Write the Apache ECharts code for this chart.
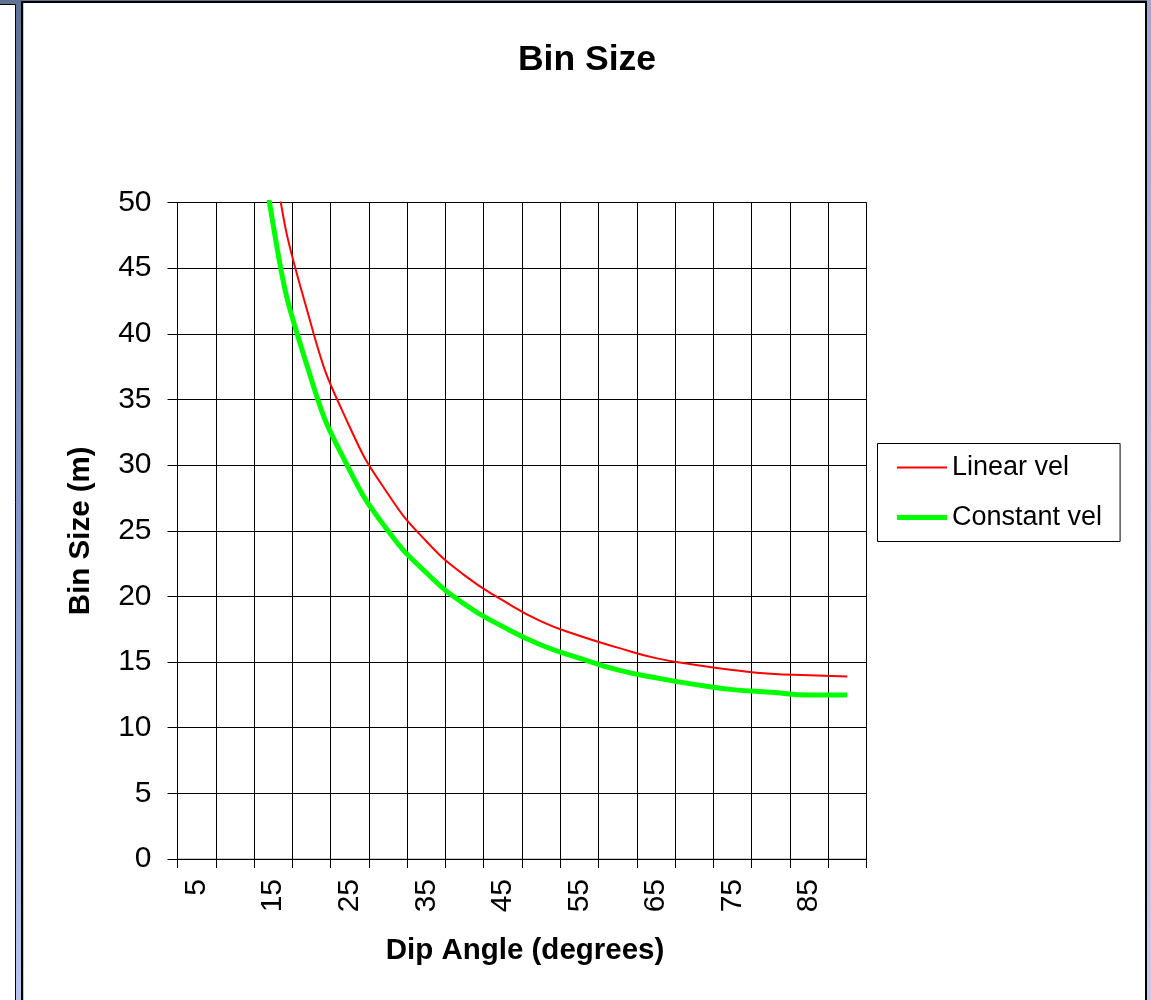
<!DOCTYPE html>
<html>
<head>
<meta charset="utf-8">
<title>Bin Size</title>
<script src="https://cdn.jsdelivr.net/npm/echarts@6/dist/echarts.min.js"></script>
<style>
  html, body { margin: 0; padding: 0; background: #ffffff; }
  #chart { width: 1151px; height: 1000px; }
</style>
</head>
<body>
<div id="chart"></div>
<script>
// Dip angle categories (degrees)
const dipAngles = ['5', '10', '15', '20', '25', '30', '35', '40', '45', '50',
                   '55', '60', '65', '70', '75', '80', '85', '90'];

// Bin size (m) for a linear velocity model
const linearVel = [159.5, 80.0, 53.7, 40.6, 32.9, 27.8, 24.2, 21.6, 19.7, 18.1,
                   17.0, 16.1, 15.3, 14.8, 14.4, 14.1, 14.0, 13.9];

// Bin size (m) for a constant velocity model
const constantVel = [143.4, 72.0, 48.3, 36.5, 29.6, 25.0, 21.8, 19.4, 17.7, 16.3,
                     15.3, 14.4, 13.8, 13.3, 12.9, 12.7, 12.5, 12.5];

// Value axis ticks
const yMin = 0, yMax = 50, yStep = 5;

const chart = echarts.init(document.getElementById('chart'), null, { renderer: 'canvas' });

const font = 'Arial, "Liberation Sans", Helvetica, sans-serif';

chart.setOption({
  animation: false,
  backgroundColor: 'transparent',
  graphic: [
    // window frame behind the chart sheet
    {
      type: 'rect', z: -10, silent: true,
      shape: { x: 0, y: 0, width: 1151, height: 1000 },
      style: {
        fill: new echarts.graphic.LinearGradient(0, 0, 0, 1, [
          { offset: 0, color: '#5f7294' },
          { offset: 0.5, color: '#8497c6' },
          { offset: 1, color: '#b9c5ef' }
        ])
      }
    },
    {
      type: 'rect', z: -9, silent: true,
      shape: { x: 1147, y: 0, width: 4, height: 1000 },
      style: {
        fill: new echarts.graphic.LinearGradient(0, 0, 0, 1, [
          { offset: 0, color: '#9aa8d2' },
          { offset: 1, color: '#c2cbf2' }
        ])
      }
    },
    {
      type: 'rect', z: -8, silent: true,
      shape: { x: -1, y: 4.5, width: 16.5, height: 1000 },
      style: { fill: '#ffffff', stroke: '#000000', lineWidth: 1 }
    },
    {
      type: 'rect', z: -7, silent: true,
      shape: { x: 22, y: 2, width: 1124, height: 1002 },
      style: { fill: '#ffffff', stroke: '#000000', lineWidth: 2 }
    },
    {
      type: 'line', z: -6, silent: true,
      shape: { x1: 23.5, y1: 3, x2: 23.5, y2: 1000 },
      style: { stroke: '#c8c8c8', lineWidth: 1 }
    }
  ],
  title: {
    text: 'Bin Size',
    left: 582,
    top: 37,
    textAlign: 'center',
    textStyle: { fontFamily: font, fontSize: 35.5, fontWeight: 'bold', color: '#000000' }
  },
  legend: {
    orient: 'vertical',
    left: 877.5,
    top: 443.5,
    padding: [9, 18, 9, 17],
    itemGap: 20,
    itemWidth: 50,
    itemHeight: 14,
    borderColor: '#000000',
    borderWidth: 1,
    backgroundColor: '#ffffff',
    textStyle: { fontFamily: font, fontSize: 27, color: '#000000', lineHeight: 30 },
    data: [
      { name: 'Linear vel', itemStyle: { opacity: 0 }, lineStyle: { width: 2, opacity: 1 } },
      { name: 'Constant vel', itemStyle: { opacity: 0 }, lineStyle: { width: 5, opacity: 1 } }
    ]
  },
  grid: {
    left: 177.5,
    top: 202.5,
    width: 689,
    height: 656.5,
    show: true,
    borderColor: '#8c8c8c',
    borderWidth: 1,
    backgroundColor: '#ffffff'
  },
  xAxis: {
    type: 'category',
    data: dipAngles,
    boundaryGap: true,
    name: 'Dip Angle (degrees)',
    nameLocation: 'middle',
    nameGap: 77,
    nameTextStyle: {
      fontFamily: font, fontSize: 29.5, fontWeight: 'bold', color: '#000000',
      padding: [0, 0, 0, 6]
    },
    axisLine: { show: true, lineStyle: { color: '#000000', width: 1 } },
    axisTick: { show: true, interval: 0, length: 9, lineStyle: { color: '#000000' } },
    axisLabel: {
      interval: 1,
      rotate: 90,
      margin: 20,
      fontFamily: font,
      fontSize: 30,
      color: '#000000'
    },
    splitLine: { show: true, interval: 0, lineStyle: { color: '#000000', width: 1 } }
  },
  yAxis: {
    type: 'value',
    min: yMin,
    max: yMax,
    interval: yStep,
    name: 'Bin Size (m)',
    nameLocation: 'middle',
    nameGap: 82,
    nameTextStyle: { fontFamily: font, fontSize: 29.5, fontWeight: 'bold', color: '#000000' },
    axisLine: { show: true, lineStyle: { color: '#000000', width: 1 } },
    axisTick: { show: true, length: 10, lineStyle: { color: '#000000' } },
    axisLabel: { margin: 26, fontFamily: font, fontSize: 30, color: '#000000' },
    splitLine: { show: true, lineStyle: { color: '#000000', width: 1 } }
  },
  series: [
    {
      name: 'Linear vel',
      type: 'line',
      data: linearVel,
      smooth: 0.5,
      symbol: 'none',
      clip: true,
      lineStyle: { color: '#ff0000', width: 2 },
      itemStyle: { color: '#ff0000' },
      z: 3
    },
    {
      name: 'Constant vel',
      type: 'line',
      data: constantVel,
      smooth: 0.5,
      symbol: 'none',
      clip: true,
      lineStyle: { color: '#00ff00', width: 5 },
      itemStyle: { color: '#00ff00' },
      z: 2
    }
  ]
});
</script>
</body>
</html>
